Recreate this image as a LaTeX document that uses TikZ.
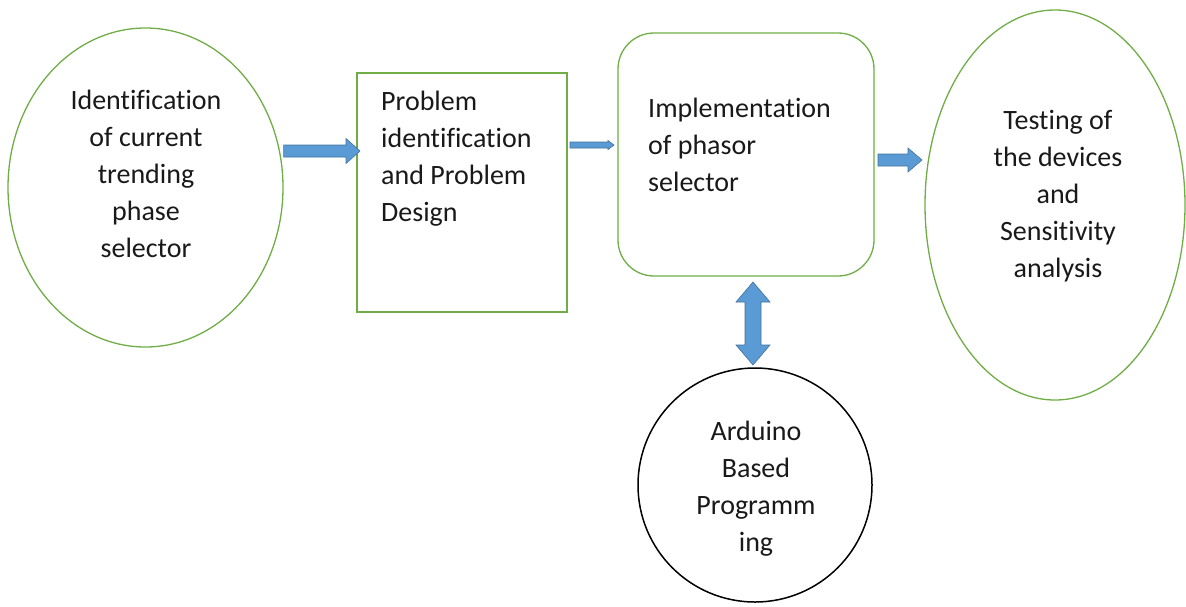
\documentclass[tikz,border=0pt]{standalone}
\usepackage{fontspec}
\setmainfont{Carlito}[Ligatures=NoCommon]
\usetikzlibrary{shapes.geometric,calc}
\definecolor{frameGreen}{HTML}{70AD47}
\definecolor{arrowFill}{HTML}{5B9BD5}
\definecolor{arrowLine}{HTML}{41719C}
\newcommand{\harrowdraw}[5]{% start, tip, shaft half, head half, head length
  \path[blockarrow] let \p1=(#1), \p2=(#2) in
    (\x1,\y1+#3) -- (\x2-#5,\y1+#3) -- (\x2-#5,\y1+#4) -- (\x2,\y1)
    -- (\x2-#5,\y1-#4) -- (\x2-#5,\y1-#3) -- (\x1,\y1-#3) -- cycle;}
\newcommand{\varrowdraw}[5]{% top tip, bottom tip, shaft half, head half, head length
  \path[blockarrow] let \p1=(#1), \p2=(#2) in
    (\x1,\y1) -- (\x1+#4,\y1-#5) -- (\x1+#3,\y1-#5) -- (\x1+#3,\y2+#5)
    -- (\x1+#4,\y2+#5) -- (\x1,\y2) -- (\x1-#4,\y2+#5) -- (\x1-#3,\y2+#5)
    -- (\x1-#3,\y1-#5) -- (\x1-#4,\y1-#5) -- cycle;}
\begin{document}
\begin{tikzpicture}[x=1pt,y=-1pt,
  greenline/.style={draw=frameGreen,line width=1.3pt},
  ellbox/.style={ellipse,greenline,inner sep=0pt},
  txt/.style={inner sep=0pt,font=\fontsize{28}{37}\selectfont,text=black!90},
  blockarrow/.style={fill=arrowFill,draw=arrowLine,line width=0.6pt}]
\useasboundingbox (0,0) rectangle (1186,606);
% shapes
\node[ellbox,minimum width=275pt,minimum height=319pt] (e1) at (145.5,187.5) {};
\node[greenline,rectangle,minimum width=210pt,minimum height=239pt,inner sep=0pt] (b2) at (462,192.5) {};
\node[greenline,rectangle,rounded corners=36pt,minimum width=256pt,minimum height=243pt,inner sep=0pt] (b3) at (746,154.5) {};
\node[ellbox,minimum width=260pt,minimum height=390pt] (e4) at (1055,205) {};
\node[circle,draw=black,line width=1.5pt,minimum size=234pt,inner sep=0pt] (c5) at (755,485) {};
% texts
\node[txt,align=center] (e1t) at (146,174.3) {Identification\\of current\\trending\\phase\\selector};
\node[txt,align=left,anchor=north west] (b2t) at (381,90.5) {Problem\\identification\\and Problem\\Design};
\node[txt,align=left,anchor=north west] (b3t) at (648,97.5) {Implementation\\of phasor\\selector};
\node[txt,align=center] (e4t) at (1058,195.8) {Testing of\\the devices\\and\\Sensitivity\\analysis};
\node[txt,align=center] (c5t) at (756,488.8) {Arduino\\Based\\Programm\\ing};
% connector ends
\coordinate (a1s) at (e1.east |- 0,151);
\coordinate (a1e) at (360,151);
\coordinate (a2s) at (570,145);
\coordinate (a2e) at (614,145);
\coordinate (a3s) at (878,160);
\coordinate (a3e) at (922,160);
\coordinate (a4s) at (753,282);
\coordinate (a4e) at (753,365);
% arrows
\harrowdraw{a1s}{a1e}{6pt}{12.5pt}{14pt}
\harrowdraw{a2s}{a2e}{3pt}{4.5pt}{6pt}
\harrowdraw{a3s}{a3e}{6pt}{12pt}{14pt}
\varrowdraw{a4s}{a4e}{8pt}{17pt}{20pt}
\end{tikzpicture}
\end{document}
